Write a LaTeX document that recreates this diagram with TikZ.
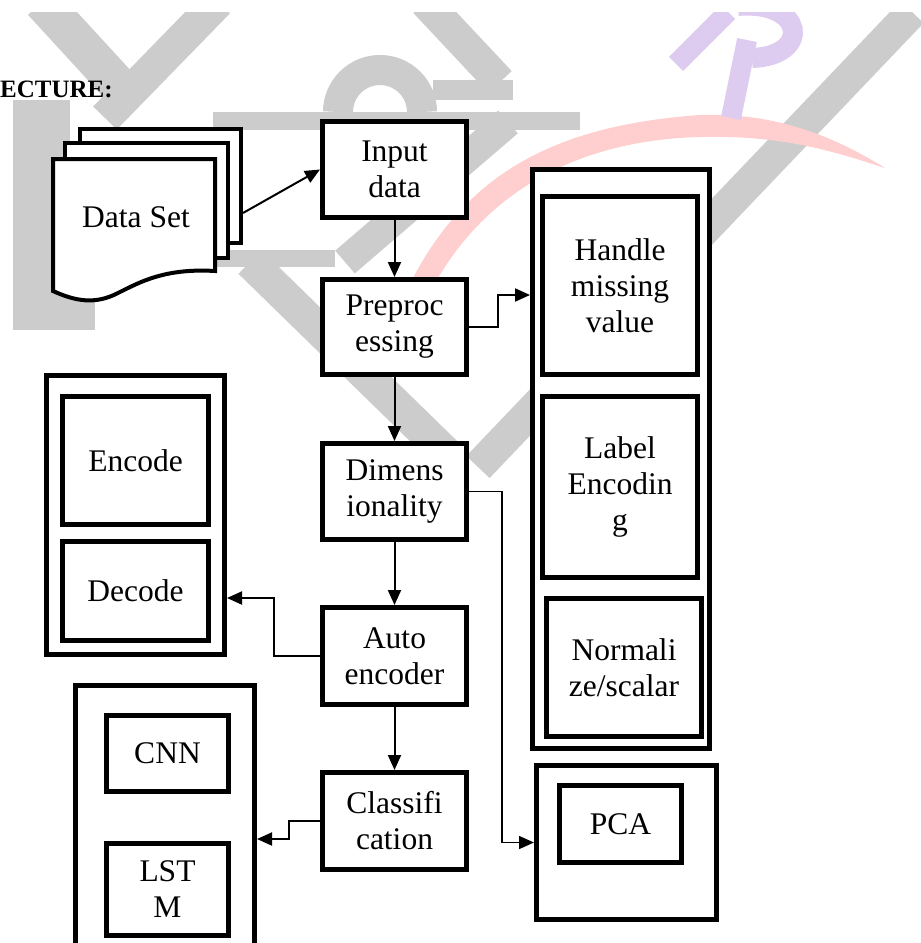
\documentclass[tikz,border=0pt]{standalone}
\usepackage{fontspec}
\setmainfont{Liberation Serif}
\usetikzlibrary{arrows.meta}
\definecolor{wmgrey}{RGB}{204,204,204}
\definecolor{wmpink}{RGB}{255,206,206}
\definecolor{wmlav}{RGB}{222,204,240}
\begin{document}
\begin{tikzpicture}[x=1pt,y=-1pt,
  font=\fontsize{31.5pt}{36pt}\selectfont,
  box/.style={draw, rectangle, line width=5pt, fill=white, align=center, inner sep=0pt},
  cont/.style={draw, rectangle, line width=5pt, fill=white, inner sep=0pt},
  sheetnode/.style={draw, rectangle, line width=4pt, fill=white, inner sep=0pt},
  sheet/.style={draw, fill=white, line width=4pt, line join=miter},
  arr/.style={-{Triangle[length=15pt,width=13pt]}, line width=2pt},
  thinarr/.style={-{Triangle[length=15pt,width=13pt]}, line width=1.5pt},
  wm/.style={wmgrey, line width=#1}
]
\useasboundingbox (0,0) rectangle (921,943);
\fill[white] (0,0) rectangle (921,943);

% ---------- watermark ----------
\begin{scope}
\clip (0,12) rectangle (921,943);
\draw[wm=38pt] (42,2) -- (132,100);
\draw[wm=33pt] (218,2) -- (105,118);
\fill[wmgrey] (13,100) rectangle (70,330);
\fill[wmgrey] (13,290) rectangle (95,330);
% arch and hook
\draw[wm=30pt] (338,112) arc (180:360:42);
\draw[wm=32pt] (425,2) -- (500,82);
\fill[wmgrey] (433,80) rectangle (513,100);
% Z shape
\fill[wmgrey] (213,112) rectangle (580,130);
\draw[wm=30pt] (508,122) -- (345,262);
\fill[wmgrey] (217,250) rectangle (335,267);
% diagonals forming V
\draw[wm=33pt] (250,262) -- (455,462);
\draw[wm=32pt] (912,12) -- (478,467);
% pink arc
\fill[wmpink] (413,278) .. controls (470,170) and (560,125) .. (700,115)
  .. controls (780,112) and (840,140) .. (885,168)
  .. controls (830,150) and (780,135) .. (700,137)
  .. controls (580,140) and (490,190) .. (438,278) -- cycle;
% lavender sign
\draw[wmlav, line width=20pt] (747,40) -- (731,118);
\draw[wmlav, line width=20pt] (738,6) .. controls (805,0) and (812,56) .. (752,58);
\draw[wmlav, line width=20pt] (676,64) -- (728,12);
\end{scope}

% ---------- title ----------
\node[anchor=base west, inner sep=0pt, font=\fontsize{25pt}{30pt}\selectfont\bfseries] (title) at (0,97) {ECTURE:};

% ---------- data set ----------
\node[sheetnode, minimum width=161pt, minimum height=114pt] (back) at (160.5,186) {};
\node[sheetnode, minimum width=163pt, minimum height=115pt] (mid) at (146.5,200.5) {};
\filldraw[sheet] (53,159) -- (215,159) -- (215,271)
  .. controls (165,268) and (140,282) .. (118,293)
  .. controls (95,305) and (75,301) .. (53,291) -- cycle;
\node[anchor=base, inner sep=0pt] (ds) at (136,227) {Data Set};

% ---------- central column ----------
\node[box, minimum width=144pt, minimum height=96pt] (in)   at (394.5,169.5) {Input\\data};
\node[box, minimum width=144pt, minimum height=95pt] (pre)  at (394.5,327)   {Preproc\\essing};
\node[box, minimum width=144pt, minimum height=96pt] (dim)  at (394.5,491.5) {Dimens\\ionality};
\node[box, minimum width=144pt, minimum height=97pt] (auto) at (394.5,656)   {Auto\\encoder};
\node[box, minimum width=144pt, minimum height=97pt] (cls)  at (394.5,821)   {Classifi\\cation};

% ---------- right container ----------
\node[cont, minimum width=177pt, minimum height=579pt] (rc) at (621,459) {};
\node[box, minimum width=155pt, minimum height=178pt] (handle) at (620,285.5) {Handle\\missing\\value};
\node[box, minimum width=155pt, minimum height=181pt] (label)  at (620,487)   {Label\\Encodin\\g};
\node[box, minimum width=155pt, minimum height=138pt] (norm)   at (624,667.5) {Normali\\ze/scalar};

% ---------- PCA container ----------
\node[cont, minimum width=180pt, minimum height=154pt] (pcac) at (626.5,842.5) {};
\node[box, minimum width=122pt, minimum height=77pt] (pca) at (620.5,824) {PCA};

% ---------- left container ----------
\node[cont, minimum width=178pt, minimum height=279pt] (lc) at (135.5,515) {};
\node[box, minimum width=146pt, minimum height=128pt] (encode) at (135.5,460.5) {Encode};
\node[box, minimum width=146pt, minimum height=99pt]  (decode) at (135.5,591)   {Decode};

% ---------- bottom container ----------
\node[cont, minimum width=179pt, minimum height=294.5pt] (bc) at (165,832.75) {};
\node[box, minimum width=122pt, minimum height=76pt] (cnn)  at (167.5,753.5) {CNN};
\node[box, minimum width=122pt, minimum height=92pt] (lstm) at (167.5,889.5) {LST\\M};

% ---------- connectors ----------
\draw[arr] (back.east |- 0,213) -- (in.west);
\draw[arr] (in.south) -- (pre.north);
\draw[arr] (pre.south) -- (dim.north);
\draw[arr] (dim.south) -- (auto.north);
\draw[arr] (auto.south) -- (cls.north);
\draw[arr] (pre.east) -- ++(29,0) |- (rc.west |- 0,295);
\draw[thinarr] (dim.east) -- ++(33,0) |- (pcac.west);
\draw[arr] (auto.west) -- ++(-46,0) |- (lc.east |- 0,598);
\draw[arr] (cls.west) -- ++(-31,0) |- (bc.east |- 0,839);
\end{tikzpicture}
\end{document}
